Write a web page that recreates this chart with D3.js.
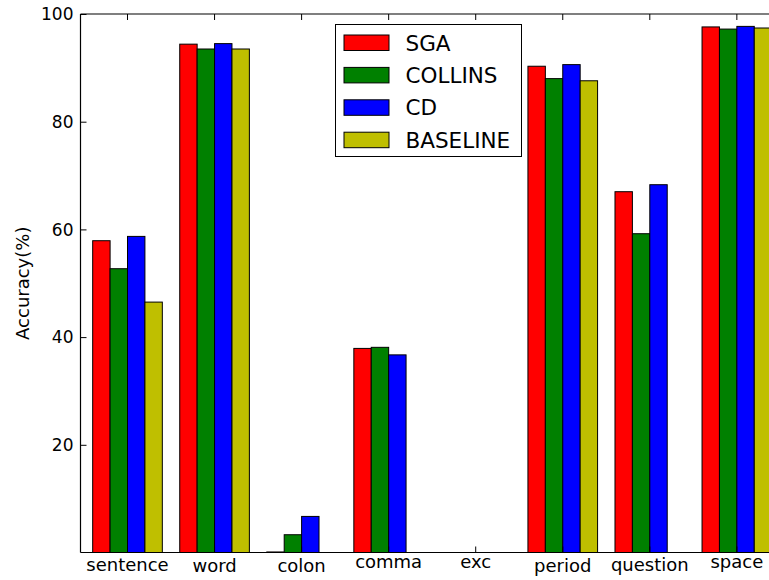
<!DOCTYPE html>
<html>
<head>
<meta charset="utf-8">
<script src="https://cdn.jsdelivr.net/npm/d3@7"></script>
<style>
  body { margin: 0; background: #fff; }
  text { font-family: 'DejaVu Sans', sans-serif; fill: #000; }
</style>
</head>
<body>
<div class="chart"></div>
<script>
let categories = ['sentence', 'word', 'colon', 'comma', 'exc', 'period', 'question', 'space']
let seriesNames = ['SGA', 'COLLINS', 'CD', 'BASELINE']
let seriesColors = ['#ff0000', '#008000', '#0000ff', '#bfbf00']

let sga      = [57.9, 94.4, 0.1, 37.9, 0, 90.3, 67.0, 97.6]
let collins  = [52.7, 93.5, 3.3, 38.1, 0, 88.0, 59.2, 97.2]
let cd       = [58.7, 94.5, 6.7, 36.7, 0, 90.6, 68.3, 97.7]
let baseline = [46.5, 93.5, 0, 0, 0, 87.6, 0, 97.4]

let yTicks = [20, 40, 60, 80, 100]

const width = 769
const height = 580
const plotLeft = 80.5, plotTop = 14, plotBottom = 552.5
const step = 87.05
const plotRight = plotLeft + step * 8.08

let svg = d3.select('.chart')
	.append('svg')
	.attr('width', width)
	.attr('height', height)

let x = d3.scaleBand()
	.domain(categories)
	.range([plotLeft, plotRight])
	.paddingInner(0.2)
	.paddingOuter(0.14)

let xs = d3.scaleBand()
	.domain(seriesNames)
	.range([0, x.bandwidth()])

let y = d3.scaleLinear()
	.domain([0, 100])
	.range([plotBottom, plotTop])

let rows = [sga, collins, cd, baseline]
let bars = []
categories.forEach((c, i) => {
	seriesNames.forEach((s, j) => {
		bars.push({ cat: c, name: s, value: rows[j][i], color: seriesColors[j] })
	})
})

svg.append('g')
	.selectAll('rect')
	.data(bars.filter((d) => d.value > 0))
	.enter().append('rect')
	.attr('x', (d) => x(d.cat) + xs(d.name))
	.attr('y', (d) => y(d.value))
	.attr('width', xs.bandwidth())
	.attr('height', (d) => y(0) - y(d.value))
	.attr('fill', (d) => d.color)
	.attr('stroke', '#000')
	.attr('stroke-width', 1)

// axes frame
let frame = [
	[plotLeft, plotTop, plotRight, plotTop],
	[plotLeft, plotBottom, plotRight, plotBottom],
	[plotLeft, plotTop, plotLeft, plotBottom]
]
svg.append('g')
	.selectAll('line')
	.data(frame)
	.enter().append('line')
	.attr('x1', (d) => d[0]).attr('y1', (d) => d[1])
	.attr('x2', (d) => d[2]).attr('y2', (d) => d[3])
	.attr('stroke', '#000').attr('stroke-width', 1.2)

// y axis, ticks inward
let yAxis = svg.append('g')
	.attr('transform', 'translate(' + plotLeft + ',0)')
	.call(d3.axisRight(y).tickValues(yTicks).tickSize(6).tickFormat(''))
yAxis.select('.domain').remove()

svg.append('g')
	.selectAll('text')
	.data(yTicks)
	.enter().append('text')
	.attr('x', plotLeft - 7)
	.attr('y', (d) => y(d))
	.attr('dy', '0.36em')
	.attr('text-anchor', 'end')
	.style('font-size', '17px')
	.text((d) => d)

// x axis ticks, inward top and bottom
let topAxis = svg.append('g')
	.attr('transform', 'translate(0,' + plotTop + ')')
	.call(d3.axisBottom(x).tickSize(6).tickFormat(''))
topAxis.select('.domain').remove()
let bAxis = svg.append('g')
	.attr('transform', 'translate(0,' + plotBottom + ')')
	.call(d3.axisTop(x).tickSize(6).tickFormat(''))
bAxis.select('.domain').remove()

// labels are top aligned on their ink, so words without tall letters sit higher
let inkTop = (s) => /[bdfhkl]/.test(s) ? 0.76 : (/t/.test(s) ? 0.72 : 0.55)
svg.append('g')
	.selectAll('text')
	.data(categories)
	.enter().append('text')
	.attr('x', (d) => x(d) + x.bandwidth() / 2)
	.attr('y', (d) => 558.5 + inkTop(d) * 18)
	.attr('text-anchor', 'middle')
	.style('font-size', '18px')
	.text((d) => d)

svg.append('text')
	.attr('transform', 'translate(29,' + ((plotTop + plotBottom) / 2) + ') rotate(-90)')
	.attr('text-anchor', 'middle')
	.style('font-size', '18px')
	.text('Accuracy(%)')

// legend
let legend = svg.append('g')
	.attr('transform', 'translate(335.5,24.5)')

legend.append('rect')
	.attr('width', 186)
	.attr('height', 132)
	.attr('fill', '#fff')
	.attr('stroke', '#000')
	.attr('stroke-width', 1)

let item = legend.selectAll('.legend-item')
	.data(seriesNames)
	.enter().append('g')
	.attr('class', 'legend-item')
	.attr('transform', (d, i) => 'translate(0,' + (i * 32.4) + ')')

item.append('rect')
	.attr('x', 8.5)
	.attr('y', 10.5)
	.attr('width', 45)
	.attr('height', 15.5)
	.attr('fill', (d, i) => seriesColors[i])
	.attr('stroke', '#000')

item.append('text')
	.attr('x', 70)
	.attr('y', 26)
	.style('font-size', '21.5px')
	.text((d) => d)
</script>
</body>
</html>
